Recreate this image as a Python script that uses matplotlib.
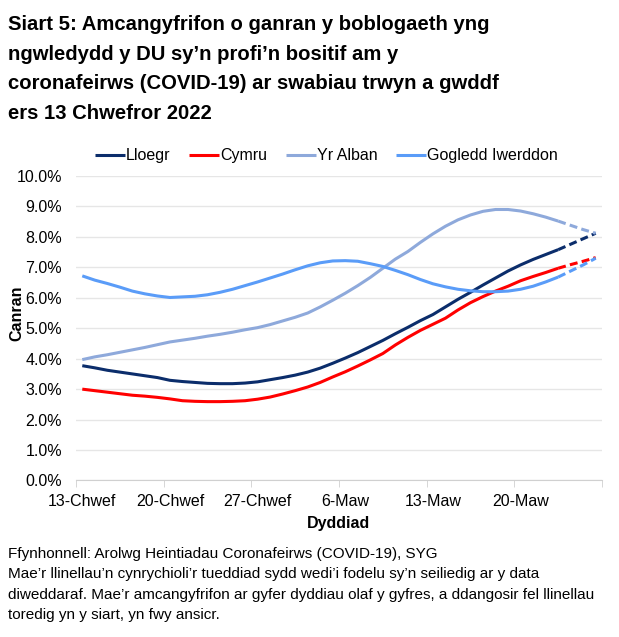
import matplotlib.pyplot as plt
import numpy as np

plt.rcParams['font.family'] = ['Liberation Sans', 'DejaVu Sans']

# 42 days: 13 Feb - 26 Mar 2022
tick_pos = [0, 7, 14, 21, 28, 35]
tick_labels = ["13-Chwef", "20-Chwef", "27-Chwef", "6-Maw", "13-Maw", "20-Maw"]

lloegr = [3.77, 3.70, 3.62, 3.56, 3.50, 3.44, 3.38, 3.29, 3.25, 3.22,
          3.19, 3.18, 3.18, 3.20, 3.24, 3.31, 3.38, 3.46, 3.56, 3.69,
          3.85, 4.02, 4.20, 4.40, 4.60, 4.82, 5.03, 5.25, 5.45, 5.70,
          5.95, 6.18, 6.42, 6.65, 6.88, 7.08, 7.26, 7.42, 7.58, 7.76,
          7.94, 8.12]
cymru = [3.00, 2.95, 2.90, 2.85, 2.80, 2.77, 2.73, 2.68, 2.62, 2.60,
         2.59, 2.59, 2.60, 2.62, 2.67, 2.74, 2.84, 2.95, 3.07, 3.22,
         3.40, 3.57, 3.76, 3.96, 4.17, 4.45, 4.70, 4.93, 5.13, 5.33,
         5.60, 5.84, 6.04, 6.22, 6.38, 6.56, 6.70, 6.83, 6.97, 7.09,
         7.20, 7.32]
yr_alban = [3.97, 4.06, 4.13, 4.21, 4.29, 4.37, 4.46, 4.55, 4.61, 4.67,
            4.74, 4.80, 4.87, 4.95, 5.02, 5.12, 5.24, 5.36, 5.50, 5.70,
            5.92, 6.15, 6.40, 6.67, 6.97, 7.27, 7.52, 7.82, 8.10, 8.35,
            8.56, 8.72, 8.84, 8.90, 8.90, 8.85, 8.76, 8.65, 8.52, 8.38,
            8.24, 8.12]
gogledd_iwerddon = [6.72, 6.58, 6.47, 6.35, 6.22, 6.13, 6.06, 6.01, 6.03, 6.05,
                    6.10, 6.18, 6.28, 6.40, 6.52, 6.65, 6.78, 6.92, 7.05, 7.15,
                    7.21, 7.22, 7.20, 7.12, 7.03, 6.90, 6.76, 6.60, 6.46, 6.36,
                    6.28, 6.23, 6.20, 6.20, 6.22, 6.28, 6.38, 6.52, 6.68, 6.88,
                    7.08, 7.30]

series = [("Lloegr", lloegr, "#0B2D6B"),
          ("Cymru", cymru, "#FF0000"),
          ("Yr Alban", yr_alban, "#8EA9DB"),
          ("Gogledd Iwerddon", gogledd_iwerddon, "#5A9CF8")]

split = 38  # last few days shown dashed

fig = plt.figure(figsize=(6.19, 6.37), dpi=100)
ax = fig.add_axes([0.1228, 0.2457, 0.8497, 0.478])

x = np.arange(len(lloegr))
for name, vals, col in series:
    ax.plot(x[:split + 1], vals[:split + 1], color=col, lw=2.2, label=name,
            solid_capstyle='butt')
    ax.plot(x[split:], vals[split:], color=col, lw=2.2, dashes=(2.6, 1.4))

ax.set_xlim(-0.5, len(lloegr) - 0.5)
ax.set_ylim(0, 10)
ax.set_yticks(np.arange(0, 10.01, 1))
ax.set_yticklabels([f"{v:.1f}%" for v in np.arange(0, 10.01, 1)], fontsize=11.5)
ax.yaxis.grid(True, color="#E6E6E6", lw=1)
ax.set_axisbelow(True)

ax.set_xticks(tick_pos)
ax.set_xticklabels(tick_labels, fontsize=11.5)
ax.set_xticks(np.arange(-0.5, len(lloegr), 7), minor=True)
ax.tick_params(axis='x', which='major', length=0, pad=10)
ax.tick_params(axis='x', which='minor', length=5, color="#D0D0D0")
ax.tick_params(axis='y', length=0, pad=10)

for s in ['top', 'right', 'left']:
    ax.spines[s].set_visible(False)
ax.spines['bottom'].set_color("#D0D0D0")

ax.set_xlabel("Dyddiad", fontsize=11.5, fontweight='bold', labelpad=5)
ax.set_ylabel("Canran", fontsize=11.5, fontweight='bold')
ax.yaxis.set_label_coords(-0.099, 0.55)

ax.legend(loc='lower center', bbox_to_anchor=(0.476, 1.0), ncol=4, frameon=False,
          fontsize=11.5, handlelength=1.9, handletextpad=0.05, columnspacing=1.15,
          borderaxespad=0.4)

fig.text(0.013, 0.976, "Siart 5: Amcangyfrifon o ganran y boblogaeth yng\n"
         "ngwledydd y DU sy\u2019n profi\u2019n bositif am y\n"
         "coronafeirws (COVID-19) ar swabiau trwyn a gwddf\n"
         "ers 13 Chwefror 2022", fontsize=14.6, fontweight='bold',
         va='top', ha='left', linespacing=1.7)

fig.text(0.013, 0.142, "Ffynhonnell: Arolwg Heintiadau Coronafeirws (COVID-19), SYG\n"
         "Mae\u2019r llinellau\u2019n cynrychioli\u2019r tueddiad sydd wedi\u2019i fodelu sy\u2019n seiliedig ar y data\n"
         "diweddaraf. Mae\u2019r amcangyfrifon ar gyfer dyddiau olaf y gyfres, a ddangosir fel llinellau\n"
         "toredig yn y siart, yn fwy ansicr.", fontsize=11, va='top', ha='left',
         linespacing=1.6)

fig.savefig("out.png", dpi=100)
